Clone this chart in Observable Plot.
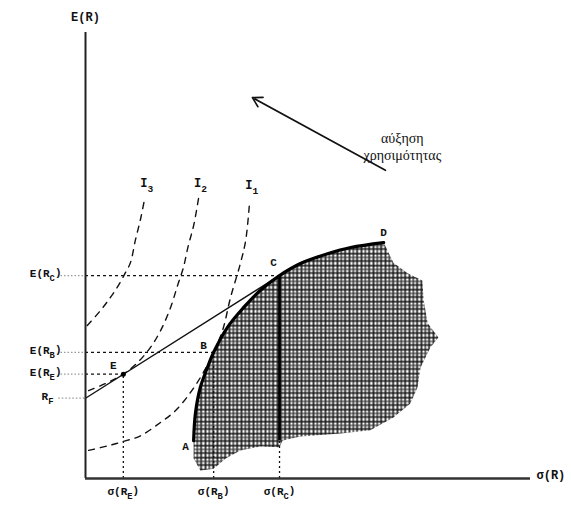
<!DOCTYPE html>
<html>
<head>
<meta charset="utf-8">
<script src="https://cdn.jsdelivr.net/npm/d3@7"></script>
<script src="https://cdn.jsdelivr.net/npm/@observablehq/plot@0.6"></script>
<style>
  html, body { margin: 0; padding: 0; background: #fff; }
</style>
</head>
<body>
<div id="chart"></div>
<script>
// Efficient frontier A–D, capital market line from R_F tangent at C,
// indifference curves I1, I2, I3 (units: σ and E(R) on 0–100 scales).

const riskFree = 18;

// Efficient frontier from A through B and C to D
const frontierSigma = [24.3, 24.7, 25.8, 27.4, 28.8, 31.9, 35.5, 39.3, 43.6, 48.3, 54.4, 59.6, 67.0];
const frontierER    = [8.5, 14.6, 20.4, 24.9, 28.3, 33.9, 38.3, 42.2, 45.5, 48.2, 50.4, 51.8, 52.9];

// Outline of the feasible set, continuing clockwise from D back towards A
const setSigma = [69.2, 72.4, 75.7, 76.0, 76.9, 79.3, 77.5, 75.3, 74.6, 73.0, 69.2, 64.0, 57.3, 48.3, 44.3, 43.6, 39.3, 34.8, 31.5, 28.8, 25.8, 24.3];
const setER    = [48.4, 46.0, 44.4, 39.9, 34.8, 31.6, 29.4, 24.9, 20.4, 16.8, 13.7, 10.8, 10.1, 9.4, 8.5, 7.0, 7.2, 6.3, 4.5, 2.2, 1.8, 4.5];

// Indifference curves
const i1Sigma = [0.7, 4.5, 8.5, 12.4, 16.9, 20.2, 23.6, 26.5, 28.8, 30.8, 32.6, 34.8, 36.0, 36.9];
const i1ER    = [6.3, 7.2, 8.3, 9.6, 12.6, 15.2, 19.3, 23.8, 28.3, 33.2, 40.6, 48.2, 53.4, 62.3];
const i2Sigma = [0.7, 4.5, 8.5, 11.7, 14.6, 16.9, 19.1, 20.7, 22.0, 23.1, 24.3, 25.4];
const i2ER    = [19.7, 21.3, 23.4, 26.0, 29.4, 33.2, 38.3, 43.3, 47.3, 52.2, 56.7, 62.8];
const i3Sigma = [0.4, 3.4, 5.6, 7.4, 9.0, 10.1, 11.2, 12.4, 13.3];
const i3ER    = [34.3, 37.7, 40.6, 43.3, 46.2, 48.4, 53.4, 58.3, 62.8];
const curveNames = ["I_1", "I_2", "I_3"];

// Named portfolios
const pointNames = ["A", "B", "C", "D", "E"];
const pointSigma = [24.3, 28.8, 43.6, 67.0, 8.5];
const pointER    = [8.5, 28.3, 45.5, 52.9, 23.4];

// Axis tick labels
const yTickLabels = ["E(R_C)", "E(R_B)", "E(R_E)", "R_F"];
const yTickValues = [45.5, 28.3, 23.4, riskFree];
const xTickLabels = ["σ(R_E)", "σ(R_B)", "σ(R_C)"];
const xTickValues = [8.5, 28.8, 43.6];

// Direction of increasing utility
const arrowFrom = [67.4, 69.1];
const arrowTo = [37.5, 85.4];
const arrowText = "αύξηση\nχρησιμότητας";

// ---- build tables from the arrays ----
const zip = (xs, ys) => xs.map((x, i) => ({s: x, e: ys[i]}));
const frontier = zip(frontierSigma, frontierER);
const feasible = frontier.concat(zip(setSigma, setER));
const curves = [zip(i1Sigma, i1ER), zip(i2Sigma, i2ER), zip(i3Sigma, i3ER)];
const points = pointNames.map((n, i) => ({name: n, s: pointSigma[i], e: pointER[i]}));
const P = Object.fromEntries(points.map(p => [p.name, p]));
const yTicks = yTickLabels.map((t, i) => ({label: t, e: yTickValues[i]}));
const xTicks = xTickLabels.map((t, i) => ({label: t, s: xTickValues[i]}));
const cml = [{s: 0, e: riskFree}, {s: P.C.s, e: P.C.e}];
const curveTops = curves.map((c, i) => ({label: curveNames[i], s: c[c.length - 1].s, e: c[c.length - 1].e}));

// where each point's letter sits relative to the point
const pointLabelOffset = {A: [-8, 6], B: [-10, -7], C: [-6, -13], D: [0, -10], E: [-10, -9]};

const labelFont = {fontFamily: "'Liberation Mono', 'DejaVu Sans Mono', monospace", fontWeight: "bold", fontSize: 11};

const chart = Plot.plot({
  width: 571,
  height: 511,
  marginLeft: 85,
  marginRight: 41,
  marginTop: 32,
  marginBottom: 33,
  x: {domain: [0, 100], axis: null},
  y: {domain: [0, 100], axis: null},
  style: {background: "#fff", color: "#111"},
  marks: [
    // feasible set, cross-hatched
    Plot.line(feasible, {x: "s", y: "e", fill: "url(#hatch)", stroke: "none"}),

    // guide lines from the axes to the points
    Plot.ruleY(yTicks.filter(d => d.label !== "R_F"), {y: "e", x1: () => -5.5, x2: () => 0, stroke: "#999", strokeWidth: 1.2, strokeDasharray: "1.5,2"}),
    Plot.ruleY([riskFree], {y: d => d, x1: () => -6, x2: () => 0, stroke: "#999", strokeWidth: 1.2, strokeDasharray: "1.5,2"}),
    Plot.ruleY([P.C, P.B, P.E], {y: "e", x1: () => 0, x2: "s", stroke: "#111", strokeWidth: 1.3, strokeDasharray: "3,3"}),
    Plot.ruleX([P.E, P.B], {x: "s", y1: () => 0, y2: "e", stroke: "#111", strokeWidth: 1.3, strokeDasharray: "2,3"}),
    Plot.ruleX([P.C], {x: "s", y1: () => 0, y2: () => P.A.e, stroke: "#111", strokeWidth: 1.3, strokeDasharray: "2,3"}),
    Plot.ruleX([P.C], {x: "s", y1: () => P.A.e, y2: "e", stroke: "#000", strokeWidth: 2.8}),

    // indifference curves
    ...curves.map(c => Plot.line(c, {x: "s", y: "e", curve: "catmull-rom", stroke: "#111", strokeWidth: 1.4, strokeDasharray: "6,6"})),

    // capital market line
    Plot.line(cml, {x: "s", y: "e", stroke: "#111", strokeWidth: 1.4}),

    // efficient frontier
    Plot.line(frontier, {x: "s", y: "e", curve: "catmull-rom", stroke: "#000", strokeWidth: 3.2}),

    // portfolio E
    Plot.dot([P.E], {x: "s", y: "e", r: 2.5, fill: "#000"}),

    // axes
    Plot.ruleX([0], {x: d => d, y1: () => 0, y2: () => 100, stroke: "#222", strokeWidth: 2}),
    Plot.ruleY([0], {y: d => d, x1: () => 0, x2: () => 100, stroke: "#333", strokeWidth: 2.6}),
    Plot.text(["E(R)"], {x: () => 0, y: () => 103.4, text: d => d, ...labelFont, fontSize: 12}),
    Plot.text(["σ(R)"], {x: () => 100, y: () => 0.8, text: d => d, textAnchor: "start", dx: 6, ...labelFont, fontSize: 12}),

    // tick labels
    Plot.text(yTicks.filter(d => d.label !== "R_F"), {x: () => 0, y: "e", text: "label", textAnchor: "end", dx: -24, dy: -2, ...labelFont}),
    Plot.text(yTicks.filter(d => d.label === "R_F"), {x: () => 0, y: "e", text: "label", textAnchor: "end", dx: -32, dy: -2, ...labelFont}),
    Plot.text(xTicks, {x: "s", y: () => 0, text: "label", dy: 13, ...labelFont}),

    // point letters
    ...points.map(p => Plot.text([p], {x: "s", y: "e", text: "name", dx: pointLabelOffset[p.name][0], dy: pointLabelOffset[p.name][1], ...labelFont})),

    // curve names
    Plot.text(curveTops, {x: "s", y: "e", text: "label", dx: 2, dy: -15, ...labelFont, fontSize: 12}),

    // increasing utility
    Plot.arrow([0], {x1: () => arrowFrom[0], y1: () => arrowFrom[1], x2: () => arrowTo[0], y2: () => arrowTo[1], stroke: "#111", strokeWidth: 1.6, headLength: 10}),
    Plot.text([arrowText], {x: () => 71.2, y: () => 74.6, text: d => d, fontFamily: "'Liberation Serif', 'DejaVu Serif', serif", fontSize: 14, lineHeight: 1.25})
  ]
});

// irregular cross-hatch pattern used by the feasible set
const ns = "http://www.w3.org/2000/svg";
const defs = document.createElementNS(ns, "defs");
defs.innerHTML = `
  <pattern id="hatch" width="12" height="12" patternUnits="userSpaceOnUse">
    <path d="M1 0V12M8.6 0V12" stroke="#111" stroke-width="1.6"/>
    <path d="M4.8 0V12" stroke="#222" stroke-width="1.3"/>
    <path d="M0 1.2H12M0 8.4H12" stroke="#111" stroke-width="1.5"/>
    <path d="M0 4.9H12" stroke="#333" stroke-width="1.2"/>
  </pattern>`;
chart.insertBefore(defs, chart.firstChild);

// render "X_Y" as X with subscript Y
chart.querySelectorAll("text").forEach(t => {
  if (t.querySelector("tspan")) return;
  const m = t.textContent.match(/^(.*?)_(.)(.*)$/);
  if (!m) return;
  t.textContent = m[1];
  const sub = document.createElementNS(ns, "tspan");
  sub.setAttribute("dy", "0.45em");
  sub.setAttribute("font-size", "0.8em");
  sub.textContent = m[2];
  t.appendChild(sub);
  if (m[3]) {
    const rest = document.createElementNS(ns, "tspan");
    rest.setAttribute("dy", "-0.45em");
    rest.textContent = m[3];
    t.appendChild(rest);
  }
});

document.getElementById("chart").appendChild(chart);
</script>
</body>
</html>
